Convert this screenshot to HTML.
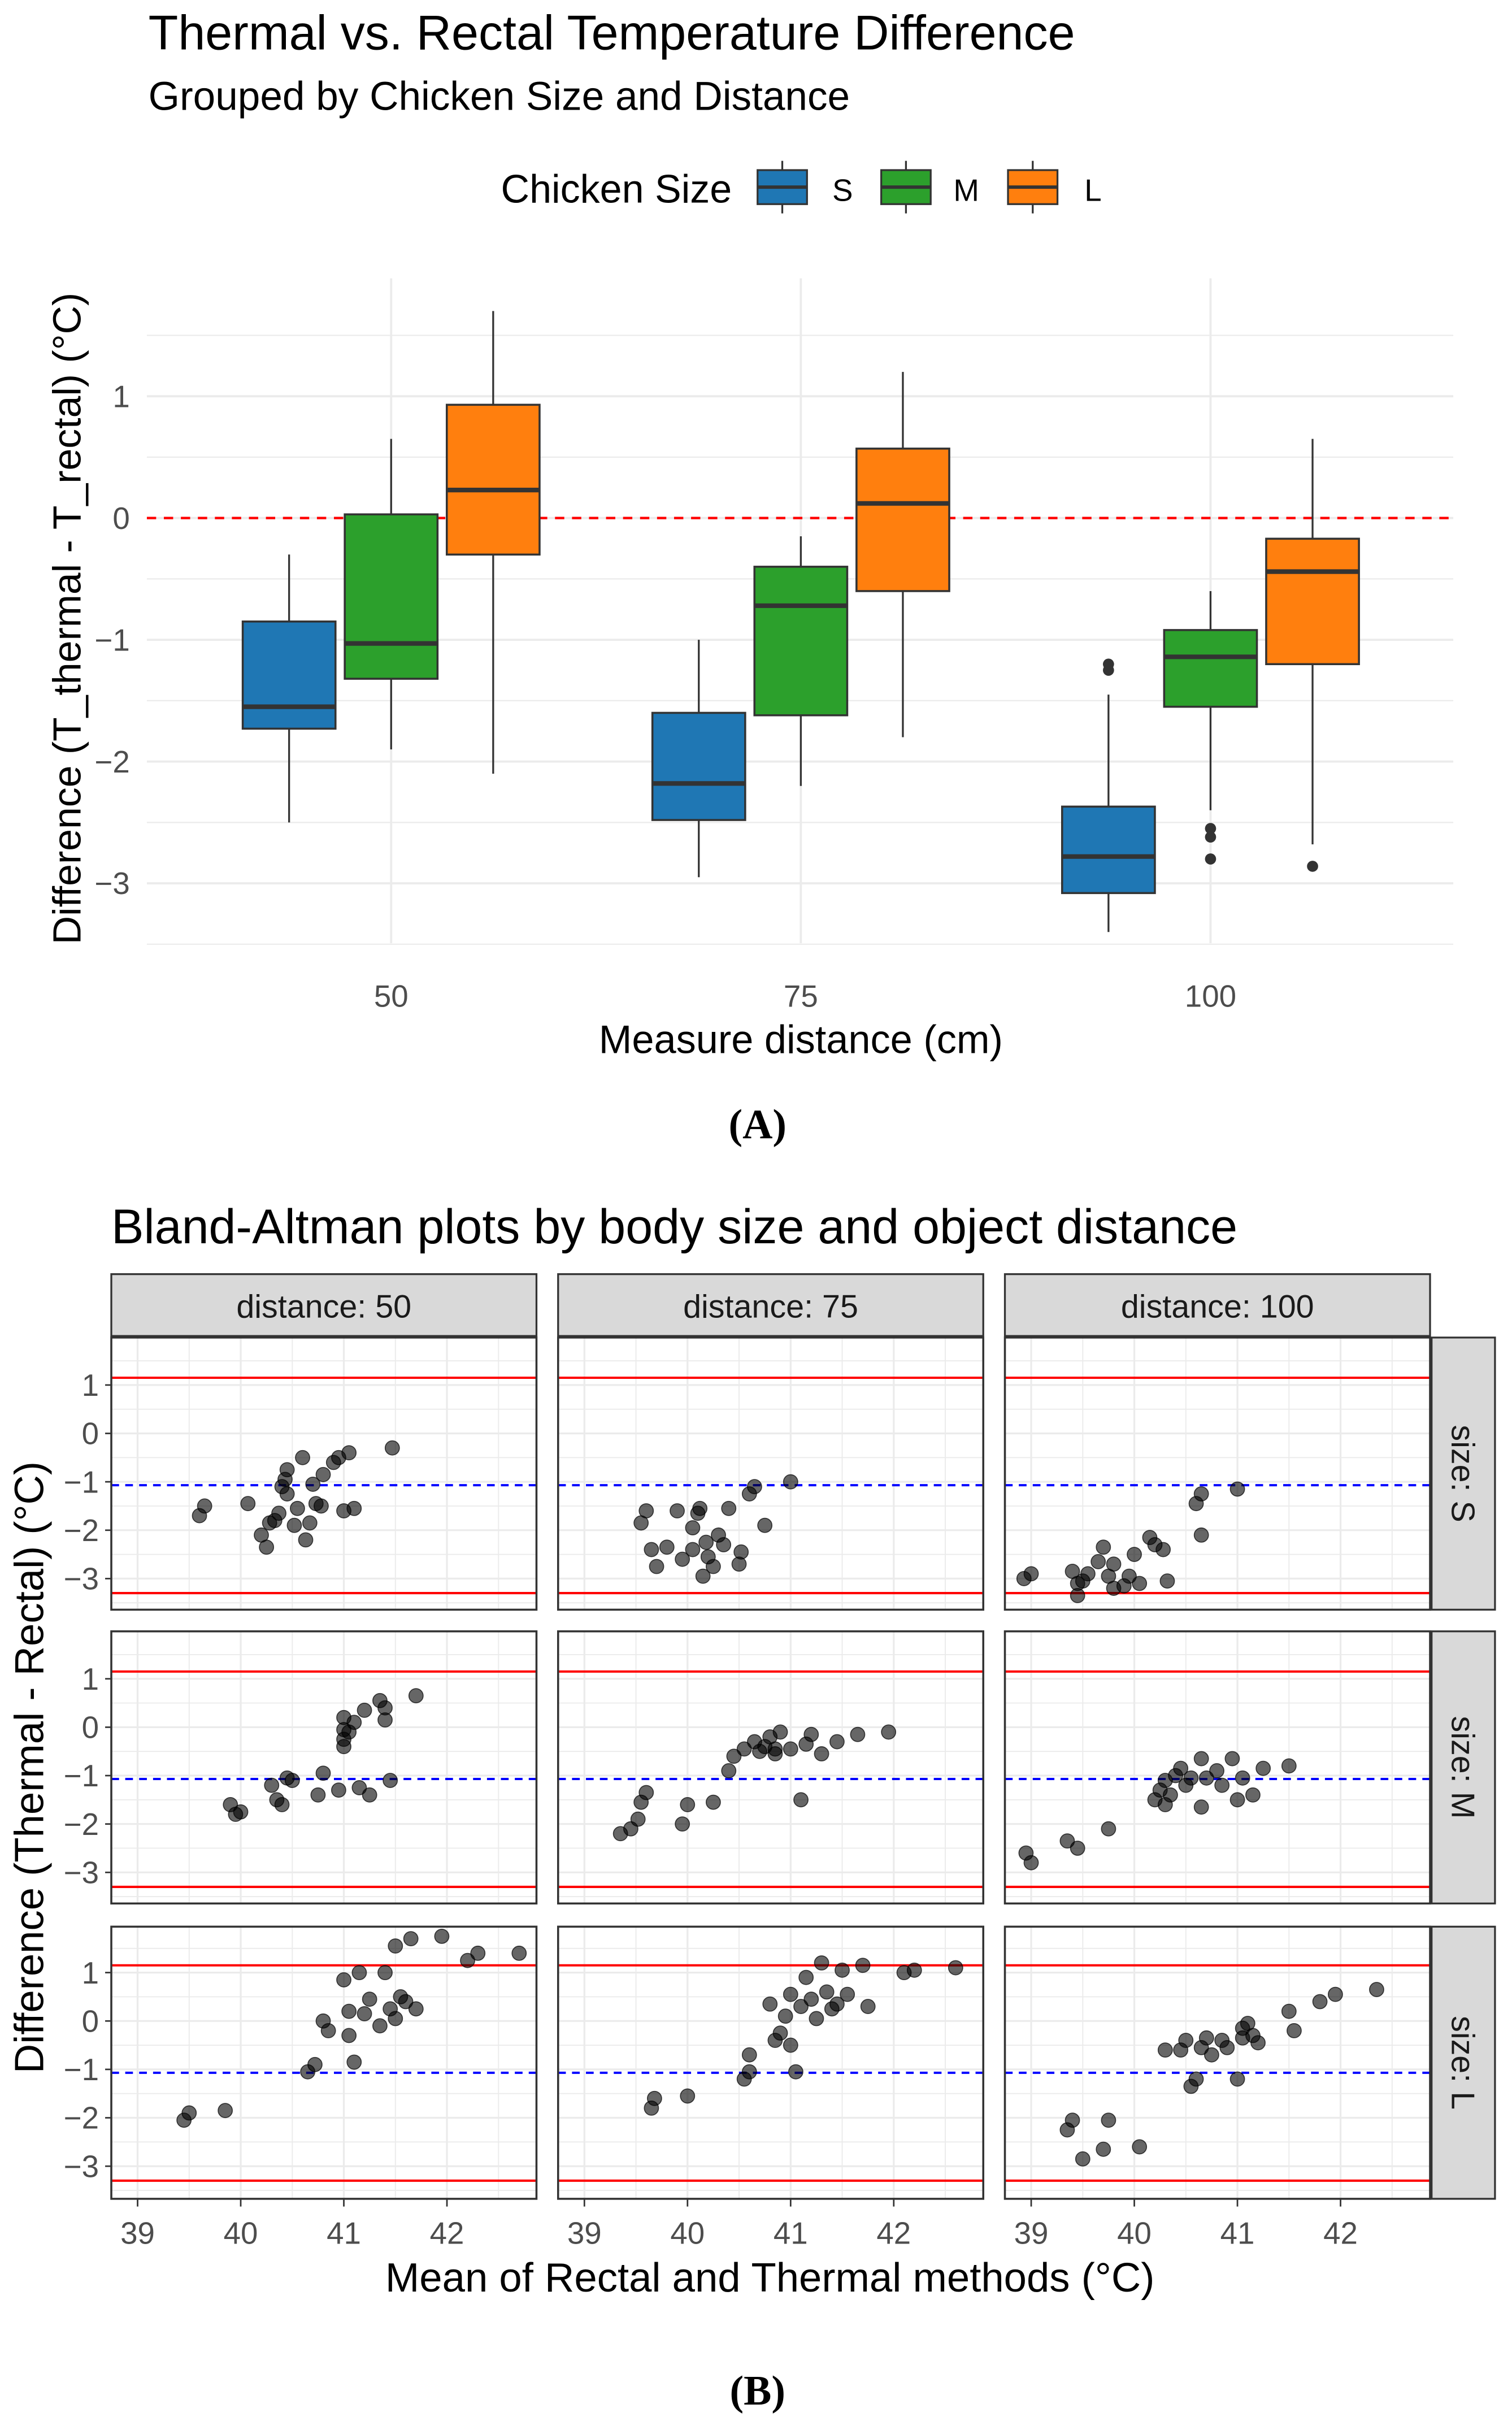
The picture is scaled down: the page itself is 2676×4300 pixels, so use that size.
<!DOCTYPE html>
<html><head><meta charset="utf-8"><style>
html,body{margin:0;padding:0;background:#fff;}
svg{display:block;}
text{font-family:"Liberation Sans",sans-serif;}
</style></head><body>
<svg id="fig" width="2676" height="4300" viewBox="0 0 978 1571.5" xmlns="http://www.w3.org/2000/svg">
<rect x="0" y="0" width="978" height="1571.5" fill="#fff"/>
<g id="A"></g>
<g id="B"></g>
</svg>
<script>
// ---- Panel A data ----
const distances = [50, 75, 100];
const sizes = ["S", "M", "L"];
const sizeColors = ["#1f77b4", "#2ca02c", "#ff7f0e"];
// [lowerWhisker, q1, median, q3, upperWhisker] per distance per size
const boxS = [[-2.5,-1.73,-1.55,-0.85,-0.3],[-2.95,-2.48,-2.18,-1.6,-1.0],[-3.4,-3.08,-2.78,-2.37,-1.45]];
const boxM = [[-1.9,-1.32,-1.03,0.03,0.65],[-2.2,-1.62,-0.72,-0.4,-0.15],[-2.4,-1.55,-1.14,-0.92,-0.6]];
const boxL = [[-2.1,-0.3,0.23,0.93,1.7],[-1.8,-0.6,0.12,0.57,1.2],[-2.68,-1.2,-0.44,-0.17,0.65]];
const outS = [[],[],[-1.2,-1.25]];
const outM = [[],[],[-2.55,-2.62,-2.8]];
const outL = [[],[],[-2.86]];
const yTicksA = [-3,-2,-1,0,1];
const yTickLabelsA = ["\u22123","\u22122","\u22121","0","1"];

// ---- Panel B data ----
const colLabels = ["distance: 50","distance: 75","distance: 100"];
const rowLabels = ["size: S","size: M","size: L"];
const xTicksB = [39,40,41,42];
const yTicksB = [-3,-2,-1,0,1];
const yTickLabelsB = ["\u22123","\u22122","\u22121","0","1"];
const upperLoA = 1.15;
const lowerLoA = -3.3;
const meanDiff = -1.07;
const S50x=[39.6,39.65,40.07,40.2,40.25,40.28,40.37,40.4,40.43,40.45,40.52,40.55,40.6,40.63,40.67,40.7,40.73,40.78,40.8,40.9,40.95,41.0,41.05,41.1,41.47,40.45,40.33];
const S50y=[-1.7,-1.5,-1.45,-2.1,-2.35,-1.85,-1.65,-1.1,-0.95,-0.75,-1.9,-1.55,-0.5,-2.2,-1.85,-1.05,-1.45,-1.5,-0.85,-0.6,-0.5,-1.6,-0.4,-1.55,-0.3,-1.25,-1.8];
const S75x=[39.55,39.6,39.65,39.7,39.8,39.9,39.95,40.05,40.05,40.1,40.12,40.15,40.18,40.2,40.25,40.3,40.35,40.4,40.5,40.52,40.6,40.65,40.75,41.0];
const S75y=[-1.85,-1.6,-2.4,-2.75,-2.35,-1.6,-2.6,-1.95,-2.4,-1.65,-1.55,-2.95,-2.25,-2.55,-2.75,-2.1,-2.3,-1.55,-2.7,-2.45,-1.25,-1.1,-1.9,-1.0];
const S100x=[38.93,39.0,39.4,39.45,39.5,39.55,39.65,39.7,39.8,39.8,39.9,39.95,40.0,40.05,40.15,40.2,40.28,40.32,40.6,40.65,40.65,41.0,39.75,39.45];
const S100y=[-3.0,-2.9,-2.85,-3.35,-3.05,-2.9,-2.65,-2.35,-2.7,-3.2,-3.15,-2.95,-2.5,-3.1,-2.15,-2.3,-2.4,-3.05,-1.45,-1.25,-2.1,-1.15,-2.95,-3.1];
const M50x=[39.9,39.95,40.0,40.3,40.35,40.4,40.45,40.5,40.75,40.8,40.95,41.0,41.0,41.0,41.05,41.1,41.15,41.2,41.25,41.35,41.4,41.4,41.45,41.7,41.0];
const M50y=[-1.6,-1.8,-1.75,-1.2,-1.5,-1.6,-1.05,-1.1,-1.4,-0.95,-1.3,-0.05,0.2,-0.25,-0.1,0.1,-1.25,0.35,-1.4,0.55,0.15,0.4,-1.1,0.65,-0.4];
const M75x=[39.35,39.45,39.52,39.55,39.6,39.95,40.0,40.25,40.4,40.45,40.55,40.65,40.7,40.75,40.8,40.85,40.85,40.9,41.0,41.1,41.15,41.2,41.3,41.45,41.65,41.95];
const M75y=[-2.2,-2.1,-1.9,-1.55,-1.35,-2.0,-1.6,-1.55,-0.9,-0.6,-0.45,-0.3,-0.5,-0.4,-0.2,-0.55,-0.45,-0.1,-0.45,-1.5,-0.35,-0.15,-0.55,-0.3,-0.15,-0.1];
const M100x=[38.95,39.0,39.35,39.45,39.75,40.2,40.25,40.3,40.35,40.4,40.45,40.5,40.55,40.65,40.65,40.7,40.8,40.85,40.95,41.0,41.05,41.15,41.25,41.5,40.3];
const M100y=[-2.6,-2.8,-2.35,-2.5,-2.1,-1.5,-1.3,-1.1,-1.4,-1.0,-0.85,-1.2,-1.05,-0.65,-1.65,-1.05,-0.9,-1.2,-0.65,-1.5,-1.05,-1.4,-0.85,-0.8,-1.6];
const L50x=[39.45,39.5,39.85,40.65,40.72,40.8,40.85,41.0,41.05,41.05,41.1,41.15,41.2,41.25,41.35,41.4,41.45,41.5,41.5,41.6,41.65,41.7,41.95,42.2,42.3,42.7,41.55];
const L50y=[-2.05,-1.9,-1.85,-1.05,-0.9,0,-0.2,0.85,0.2,-0.3,-0.85,1.0,0.15,0.45,-0.1,1.0,0.25,0.05,1.55,0.4,1.7,0.25,1.75,1.25,1.4,1.4,0.5];
const L75x=[39.65,39.68,40.0,40.55,40.6,40.6,40.8,40.85,40.9,40.95,41.0,41.05,41.1,41.15,41.2,41.25,41.3,41.35,41.4,41.45,41.5,41.55,41.7,41.75,42.1,42.2,42.6,41.0];
const L75y=[-1.8,-1.6,-1.55,-1.2,-0.7,-1.05,0.35,-0.4,-0.25,0.1,0.55,-1.05,0.3,0.9,0.45,0.05,1.2,0.6,0.25,0.35,1.05,0.55,1.15,0.3,1.0,1.05,1.1,-0.5];
const L100x=[39.35,39.4,39.5,39.7,39.75,40.05,40.3,40.45,40.5,40.55,40.6,40.65,40.7,40.75,40.85,40.9,41.0,41.05,41.1,41.15,41.2,41.5,41.55,41.8,41.95,42.35,41.05];
const L100y=[-2.25,-2.05,-2.85,-2.65,-2.05,-2.6,-0.6,-0.6,-0.4,-1.35,-1.2,-0.55,-0.35,-0.7,-0.4,-0.55,-1.2,-0.15,-0.05,-0.3,-0.45,0.2,-0.2,0.4,0.55,0.65,-0.35];

const NS="http://www.w3.org/2000/svg";
function mk(parent, tag, attrs, txt){
  const e=document.createElementNS(NS,tag);
  for(const k in attrs) e.setAttribute(k,attrs[k]);
  if(txt!==undefined) e.textContent=txt;
  parent.appendChild(e); return e;
}
const A=document.getElementById('A');
const B=document.getElementById('B');

// ===== Panel A =====
const aL=95, aR=940, aT=180, aB=610;
const ayScale=v=>335-v*78.75;
const axScale=d=>253+(d-50)*(265/25);
let t;
t=mk(A,'text',{x:96,y:32,'font-size':31.5,fill:'#000'},'Thermal vs. Rectal Temperature Difference');


t=mk(A,'text',{x:96,y:71,'font-size':26,fill:'#000'},'Grouped by Chicken Size and Distance');


// legend
const leg=mk(A,'g',{});


mk(leg,'text',{x:324,y:131,'font-size':25.6,fill:'#000'},'Chicken Size');
const legX=[490,570,652];
sizes.forEach((s,i)=>{
  const g=mk(leg,'g',{});
  
  
  mk(g,'line',{x1:legX[i]+16,x2:legX[i]+16,y1:104,y2:138,stroke:'#333','stroke-width':1.2});
  mk(g,'rect',{x:legX[i],y:110,width:32,height:22,fill:sizeColors[i],stroke:'#333','stroke-width':1.2});
  mk(g,'line',{x1:legX[i],x2:legX[i]+32,y1:121,y2:121,stroke:'#333','stroke-width':2.2});
  mk(g,'text',{x:legX[i]+55,y:130,'font-size':20,fill:'#000','text-anchor':'middle'},s);
});
// grid
const gA=mk(A,'g',{});


for(let v=-3.5; v<=1.5; v+=0.5){
  const major=Math.abs(v-Math.round(v))<1e-9;
  mk(gA,'line',{x1:aL,x2:aR,y1:ayScale(v),y2:ayScale(v),stroke:'#ebebeb','stroke-width':major?1.4:0.8});
}
distances.forEach(d=>mk(gA,'line',{x1:axScale(d),x2:axScale(d),y1:aT,y2:aB,stroke:'#ebebeb','stroke-width':1.4}));
t=mk(A,'line',{x1:aL,x2:aR,y1:ayScale(0),y2:ayScale(0),stroke:'#ff0000','stroke-width':1.6,'stroke-dasharray':'6 5'});


const boxSets=[boxS,boxM,boxL];
const outSets=[outS,outM,outL];
const dodge=[-66,0,66], bw=60;
distances.forEach((d,di)=>{
  sizes.forEach((s,si)=>{
    const b=boxSets[si][di];
    const cx=axScale(d)+dodge[si];
    const g=mk(A,'g',{});
    
    
    mk(g,'line',{x1:cx,x2:cx,y1:ayScale(b[0]),y2:ayScale(b[4]),stroke:'#333','stroke-width':1.2});
    mk(g,'rect',{x:cx-bw/2,y:ayScale(b[3]),width:bw,height:ayScale(b[1])-ayScale(b[3]),fill:sizeColors[si],stroke:'#333','stroke-width':1.3});
    mk(g,'line',{x1:cx-bw/2,x2:cx+bw/2,y1:ayScale(b[2]),y2:ayScale(b[2]),stroke:'#333','stroke-width':3});
    outSets[si][di].forEach(o=>{
      const c=mk(g,'circle',{cx:cx,cy:ayScale(o),r:3.6,fill:'#333'});
      
      
    });
  });
});
yTicksA.forEach((v,i)=>{
  const e=mk(A,'text',{x:84,y:ayScale(v)+7,'font-size':20,fill:'#4d4d4d','text-anchor':'end'},yTickLabelsA[i]);
  
  
});
distances.forEach(d=>{
  const e=mk(A,'text',{x:axScale(d),y:651,'font-size':20,fill:'#4d4d4d','text-anchor':'middle'},String(d));
  
  
});
t=mk(A,'text',{x:518,y:681,'font-size':25.7,fill:'#000','text-anchor':'middle'},'Measure distance (cm)');


t=mk(A,'text',{x:0,y:0,'font-size':25.5,fill:'#000','text-anchor':'middle',transform:'translate(52,400) rotate(-90)'},'Difference (T_thermal - T_rectal) (\u00B0C)');


t=mk(A,'text',{x:490,y:736,'font-size':27,'font-weight':'bold','text-anchor':'middle',style:'font-family:"Liberation Serif",serif'},'(A)');



// ===== Panel B =====
t=mk(B,'text',{x:72,y:804,'font-size':31.5,fill:'#000'},'Bland-Altman plots by body size and object distance');


const colL=[72,361,650], pw=275;
const rowT=[865,1055,1246], ph=176;
const zeroY=[927,1117,1307], upu=31.3;
const bx=(c,v)=>colL[c]+17+(v-39)*66.7;
const by=(r,v)=>zeroY[r]-v*upu;
const ptsX=[[S50x,S75x,S100x],[M50x,M75x,M100x],[L50x,L75x,L100x]];
const ptsY=[[S50y,S75y,S100y],[M50y,M75y,M100y],[L50y,L75y,L100y]];
colLabels.forEach((lab,c)=>{
  const g=mk(B,'g',{});
  
  
  mk(g,'rect',{x:colL[c],y:824,width:pw,height:40,fill:'#d9d9d9',stroke:'#333','stroke-width':1.2});
  mk(g,'text',{x:colL[c]+pw/2,y:852,'font-size':21,fill:'#1a1a1a','text-anchor':'middle'},lab);
});
rowLabels.forEach((lab,r)=>{
  const g=mk(B,'g',{});
  
  
  mk(g,'rect',{x:926,y:rowT[r],width:41,height:ph,fill:'#d9d9d9',stroke:'#333','stroke-width':1.2});
  mk(g,'text',{x:0,y:0,'font-size':21,fill:'#1a1a1a','text-anchor':'middle',transform:'translate(939,'+(rowT[r]+ph/2)+') rotate(90)'},lab);
});
for(let r=0;r<3;r++){
  for(let c=0;c<3;c++){
    const g=mk(B,'g',{});
    
    
    mk(g,'rect',{x:colL[c],y:rowT[r],width:pw,height:ph,fill:'#fff'});
    for(let v=38.5; v<=43; v+=0.5){
      const xx=bx(c,v); if(xx<colL[c]||xx>colL[c]+pw) continue;
      const major=Math.abs(v-Math.round(v))<1e-9;
      mk(g,'line',{x1:xx,x2:xx,y1:rowT[r],y2:rowT[r]+ph,stroke:'#ebebeb','stroke-width':major?1.2:0.7});
    }
    for(let v=-3.5; v<=2; v+=0.5){
      const yy=by(r,v); if(yy<rowT[r]||yy>rowT[r]+ph) continue;
      const major=Math.abs(v-Math.round(v))<1e-9;
      mk(g,'line',{x1:colL[c],x2:colL[c]+pw,y1:yy,y2:yy,stroke:'#ebebeb','stroke-width':major?1.2:0.7});
    }
    let e;
    e=mk(g,'line',{x1:colL[c],x2:colL[c]+pw,y1:by(r,upperLoA),y2:by(r,upperLoA),stroke:'#ff0000','stroke-width':1.5});
    
    
    e=mk(g,'line',{x1:colL[c],x2:colL[c]+pw,y1:by(r,lowerLoA),y2:by(r,lowerLoA),stroke:'#ff0000','stroke-width':1.5});
    
    
    e=mk(g,'line',{x1:colL[c],x2:colL[c]+pw,y1:by(r,meanDiff),y2:by(r,meanDiff),stroke:'#0000ff','stroke-width':1.5,'stroke-dasharray':'5 4'});
    
    
    const xs=ptsX[r][c], ys=ptsY[r][c];
    for(let i=0;i<xs.length;i++){
      const p=mk(g,'circle',{cx:bx(c,xs[i]),cy:by(r,ys[i]),r:4.6,fill:'rgba(0,0,0,0.6)',stroke:'rgba(0,0,0,0.7)','stroke-width':0.6});
      
      
    }
    mk(g,'rect',{x:colL[c],y:rowT[r],width:pw,height:ph,fill:'none',stroke:'#333','stroke-width':1.3});
  }
  yTicksB.forEach((v,i)=>{
    mk(B,'line',{x1:68,x2:72,y1:by(r,v),y2:by(r,v),stroke:'#333','stroke-width':1});
    const e=mk(B,'text',{x:64,y:by(r,v)+7,'font-size':20,fill:'#4d4d4d','text-anchor':'end'},yTickLabelsB[i]);
    
    
  });
}
for(let c=0;c<3;c++){
  xTicksB.forEach(v=>{
    mk(B,'line',{x1:bx(c,v),x2:bx(c,v),y1:1422,y2:1427,stroke:'#333','stroke-width':1});
    const e=mk(B,'text',{x:bx(c,v),y:1451,'font-size':20,fill:'#4d4d4d','text-anchor':'middle'},String(v));
    
    
  });
}
t=mk(B,'text',{x:498,y:1482,'font-size':26.5,fill:'#000','text-anchor':'middle'},'Mean of Rectal and Thermal methods (\u00B0C)');


t=mk(B,'text',{x:0,y:0,'font-size':26.5,fill:'#000','text-anchor':'middle',transform:'translate(28,1143) rotate(-90)'},'Difference (Thermal - Rectal) (\u00B0C)');


t=mk(B,'text',{x:490,y:1555,'font-size':27,'font-weight':'bold','text-anchor':'middle',style:'font-family:"Liberation Serif",serif'},'(B)');


</script>
</body></html>
